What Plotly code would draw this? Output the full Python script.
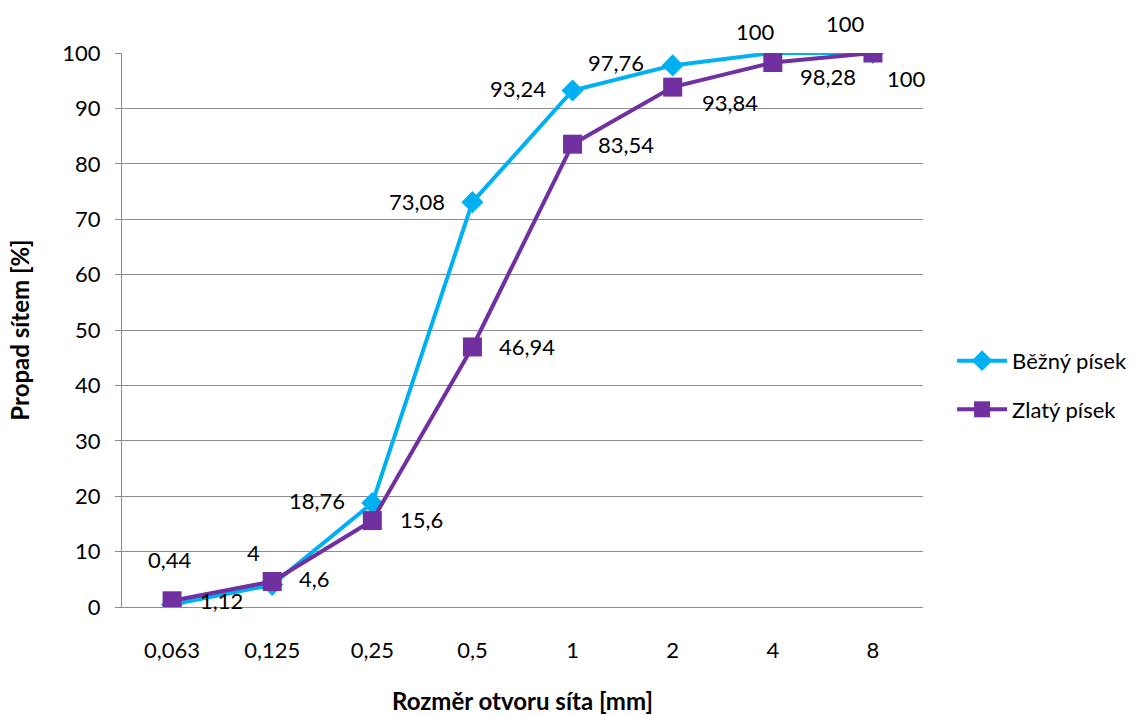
import plotly.graph_objects as go

categories = ["0,063", "0,125", "0,25", "0,5", "1", "2", "4", "8"]
bezny = [0.44, 4, 18.76, 73.08, 93.24, 97.76, 100, 100]
zlaty = [1.12, 4.6, 15.6, 46.94, 83.54, 93.84, 98.28, 100]
y_ticks = [0, 10, 20, 30, 40, 50, 60, 70, 80, 90, 100]

BLUE = "#00B0F0"
PURPLE = "#7030A0"
FONT = "Lato, 'Open Sans', sans-serif"
FS = 22

# label offsets (pixels) - styling only
blue_shift = [(-2, 45), (-19, 32), (-55, 3), (-55, 1), (-55, 2), (-57, 3), (-17, 22), (-27, 30)]
purple_shift = [(49, 0), (42, 3), (49, 1), (55, 0), (53, 0), (57, -15), (55, -14), (34, -25)]

def fmt(v):
    return ("%g" % v).replace(".", ",")

fig = go.Figure()
fig.add_trace(go.Scatter(
    x=categories, y=bezny, name="Běžný písek", mode="lines+markers",
    legendgroup="a",
    line=dict(color=BLUE, width=4),
    marker=dict(symbol="diamond", size=17, color=BLUE),
))
fig.add_trace(go.Scatter(
    x=categories, y=zlaty, name="Zlatý písek", mode="lines+markers",
    legendgroup="b",
    line=dict(color=PURPLE, width=4),
    marker=dict(symbol="square", size=19, color=PURPLE),
))

annotations = []
for i, (v, (dx, dy)) in enumerate(zip(bezny, blue_shift)):
    annotations.append(dict(x=i, y=v, text=fmt(v), showarrow=False,
                            xshift=dx, yshift=dy, font=dict(family=FONT, size=FS, color="#000")))
for i, (v, (dx, dy)) in enumerate(zip(zlaty, purple_shift)):
    annotations.append(dict(x=i, y=v, text=fmt(v), showarrow=False,
                            xshift=dx, yshift=dy, font=dict(family=FONT, size=FS, color="#000")))

fig.update_layout(
    width=1143, height=715,
    margin=dict(l=122, r=219, t=53, b=108),
    paper_bgcolor="white", plot_bgcolor="white",
    font=dict(family=FONT, size=FS, color="#000"),
    annotations=annotations,
    legend=dict(x=1.035, y=0.4, xanchor="left", yanchor="middle",
                font=dict(family=FONT, size=FS), traceorder="grouped", tracegroupgap=17,
                itemwidth=50, bgcolor="rgba(0,0,0,0)"),
    xaxis=dict(
        type="category", range=[-0.5, 7.5], showgrid=False, automargin=False,
        showline=True, linecolor="#8c8c8c", linewidth=1,
        ticks="", ticklabelstandoff=24,
        title=dict(text="<b>Rozměr otvoru síta [mm]</b>", standoff=33,
                   font=dict(family=FONT, size=24)),
    ),
    yaxis=dict(
        range=[0, 100], tickvals=y_ticks, showgrid=True, gridcolor="#8c8c8c", gridwidth=1,
        showline=True, linecolor="#8c8c8c", linewidth=1, automargin=False,
        ticks="outside", ticklen=6, tickcolor="#8c8c8c", ticklabelstandoff=10,
        zeroline=False,
        title=dict(text="<b>Propad sítem [%]</b>", standoff=25,
                   font=dict(family=FONT, size=24)),
    ),
)

fig.write_html("out.html")
